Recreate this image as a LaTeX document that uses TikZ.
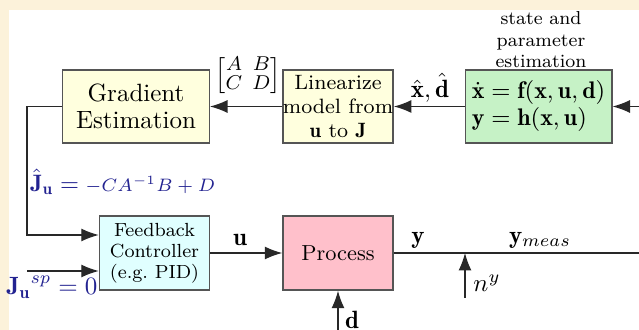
\RequirePackage{fix-cm}
\documentclass[tikz,border=0pt]{standalone}
\usepackage{amsmath}
\usepackage{fontspec}
\usetikzlibrary{arrows.meta}
\definecolor{cream}{RGB}{252,242,218}
\definecolor{boxyellow}{RGB}{255,255,222}
\definecolor{boxgreen}{RGB}{198,242,198}
\definecolor{boxcyan}{RGB}{224,255,255}
\definecolor{boxpink}{RGB}{255,192,203}
\definecolor{edge}{RGB}{85,85,85}
\definecolor{navy}{RGB}{35,35,145}
\definecolor{wire}{RGB}{40,40,40}
\begin{document}
\begin{tikzpicture}[x=0.4pt,y=-0.4pt,
  blk/.style={draw=edge, line width=0.6pt, rectangle, inner sep=0pt, align=center,
    minimum width=44pt, minimum height=29.2pt},
  wideblk/.style={blk, minimum width=58.6pt},
  wireline/.style={draw=wire, line width=0.5pt},
  conn/.style={wireline, -{Latex[length=7pt,width=5.2pt]}},
  lab/.style={inner sep=0pt, font=\fontsize{10}{12}\selectfont},
  bluelab/.style={inner sep=0pt, text=navy, font=\fontsize{9.5}{11}\selectfont}]
\fill[cream] (0,0) rectangle (639,330);
\fill[white] (9,10) rectangle (639,330);
\useasboundingbox (0,0) rectangle (639,330);

% blocks
\node[wideblk, fill=boxyellow, font=\fontsize{10}{10.8}\selectfont] (grad) at (136,106.5) {Gradient\\Estimation};
\node[blk, fill=boxyellow, font=\fontsize{8.3}{9.6}\selectfont] (lin) at (338,106.5) {Linearize\\model from\\$\mathbf{u}$ to $\mathbf{J}$};
\node[wideblk, fill=boxgreen, font=\fontsize{9.6}{10.8}\selectfont, align=left] (est) at (538.5,106.5)
  {$\dot{\mathbf{x}}=\mathbf{f}(\mathbf{x},\mathbf{u},\mathbf{d})$\\$\mathbf{y}=\mathbf{h}(\mathbf{x},\mathbf{u})$};
\node[inner sep=0pt, align=center, font=\fontsize{7.5}{8.6}\selectfont] (esttitle) at (541,40) {state and\\parameter\\estimation};
\node[blk, fill=boxcyan, minimum height=29.6pt, font=\fontsize{7.6}{8.4}\selectfont] (fb) at (154.5,253) {Feedback\\Controller\\(e.g.\ PID)};
\node[blk, fill=boxpink, minimum height=29.6pt, font=\fontsize{8.7}{10}\selectfont] (proc) at (338,253) {Process};

% connector points
\coordinate (rin) at (639,106.5);
\coordinate (c1) at (27,106.5);
\coordinate (c2) at (27,235);
\coordinate (spin) at (27,271);
\coordinate (yout) at (639,253);
\coordinate (nyin) at (465,298);
\coordinate (nyj) at (465,253);
\coordinate (din) at (338,330);

% connectors
\draw[conn] (rin) -- (est);
\draw[conn] (est) -- (lin);
\draw[conn] (lin) -- (grad);
\draw[conn] (grad.west) -- (c1) -- (c2) -- (c2 -| fb.west);
\draw[conn] (spin) -- (spin -| fb.west);
\draw[conn] (fb) -- (proc);
\draw[wireline] (proc) -- (yout);
\draw[conn] (nyin) -- (nyj);
\draw[conn] (din) -- (proc);

% labels
\node[lab] (lxd) at (430,88) {$\hat{\mathbf{x}},\hat{\mathbf{d}}$};
\node[lab, font=\fontsize{8}{9.5}\selectfont] (lmat) at (248,76) {\setlength\arraycolsep{2pt}\renewcommand\arraystretch{0.72}$\begin{bmatrix}A&B\\C&D\end{bmatrix}$};
\node[bluelab, anchor=west] (ljhat) at (30,182) {$\hat{\mathbf{J}}_{\mathbf{u}}=$\hspace{2.5pt}{\fontsize{7.2}{9}\selectfont$-CA^{-1}B+D$}};
\node[bluelab, font=\fontsize{10}{12}\selectfont] (ljsp) at (52,287) {${\mathbf{J}_{\mathbf{u}}}^{sp}=0$};
\node[lab] (lu) at (240,240) {$\mathbf{u}$};
\node[lab] (ly) at (418,240) {$\mathbf{y}$};
\node[lab] (lymeas) at (540,240) {$\mathbf{y}_{meas}$};
\node[lab] (lny) at (487,283) {$n^{y}$};
\node[lab] (ld) at (352,320) {$\mathbf{d}$};
\end{tikzpicture}
\end{document}
